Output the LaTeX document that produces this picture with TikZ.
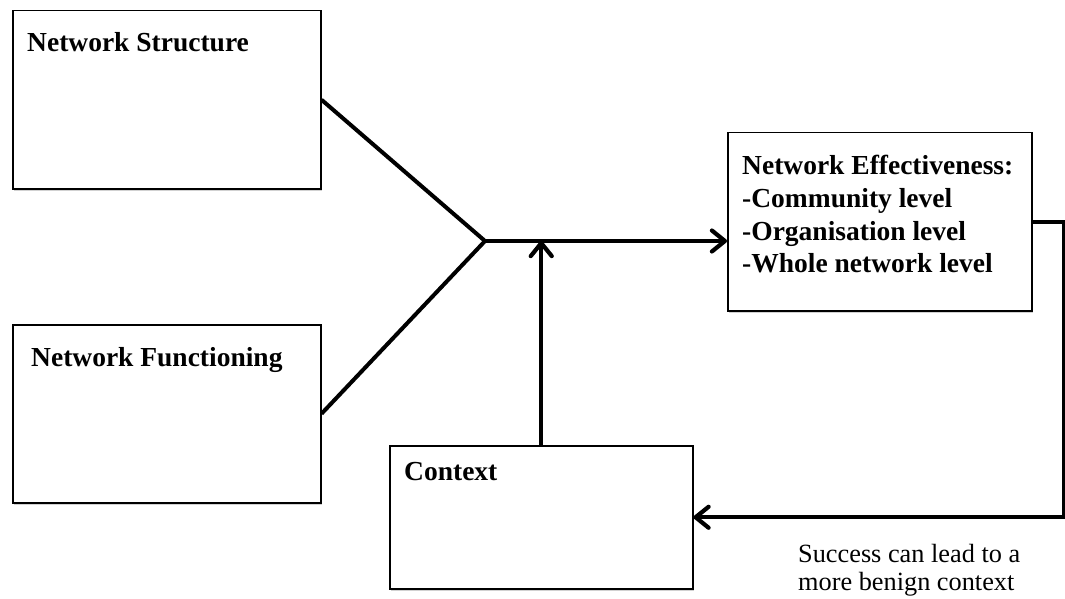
\documentclass[tikz,border=0pt]{standalone}
\usepackage{fontspec}
\setmainfont{Liberation Serif}
\usetikzlibrary{arrows.meta,shadows}
\tikzset{
  box/.style={draw=black, line width=1.5pt, fill=white, rectangle, inner sep=0pt,
    anchor=north west,
    drop shadow={shadow xshift=1.5pt, shadow yshift=-2.5pt, opacity=0.18, fill=black}},
  title/.style={anchor=base west, inner sep=0pt, font=\fontsize{27.5}{32.5}\selectfont\bfseries},
  note/.style={anchor=base west, inner sep=0pt, font=\fontsize{26.3}{28}\selectfont},
  link/.style={line width=4pt, line join=miter},
  flow/.style={link, -{Straight Barb[length=13pt,width=21pt,line width=4.2pt,round]}}
}
\begin{document}
\begin{tikzpicture}[x=1pt, y=-1pt]
  \useasboundingbox[fill=white] (0,0) rectangle (1065,599);

  % boxes
  \node[box, minimum width=308pt, minimum height=178pt] (ns) at (12,10) {};
  \node[box, minimum width=308pt, minimum height=178pt] (nf) at (12,324) {};
  \node[box, minimum width=303pt, minimum height=143pt] (ctx) at (389,445) {};
  \node[box, minimum width=304pt, minimum height=178pt] (ne) at (727,132) {};

  % box titles
  \node[title] (nst) at (27,52) {Network Structure};
  \node[title] (nft) at (31,366) {Network Functioning};
  \node[title] (ctxt) at (404,480) {Context};
  \node[title] (ne1) at (742,175) {Network Effectiveness:};
  \node[title] (ne2) at (742,207) {-Community level};
  \node[title] (ne3) at (742,240) {-Organisation level};
  \node[title] (ne4) at (742,272) {-Whole network level};

  % converging lines
  \coordinate (join) at (485,241);
  \draw[link] (ns.east) -- (join);
  \draw[link] (nf.east) -- (join);
  \draw[flow] (join) -- (join -| ne.west);
  \draw[flow] (ctx.north) -- (ctx.north |- join);

  % feedback loop
  \draw[flow] (ne.east) -- ++(31,0) |- (ctx.east);
  \node[note] (fb1) at (798,562) {Success can lead to a};
  \node[note] (fb2) at (798,590) {more benign context};
\end{tikzpicture}
\end{document}
